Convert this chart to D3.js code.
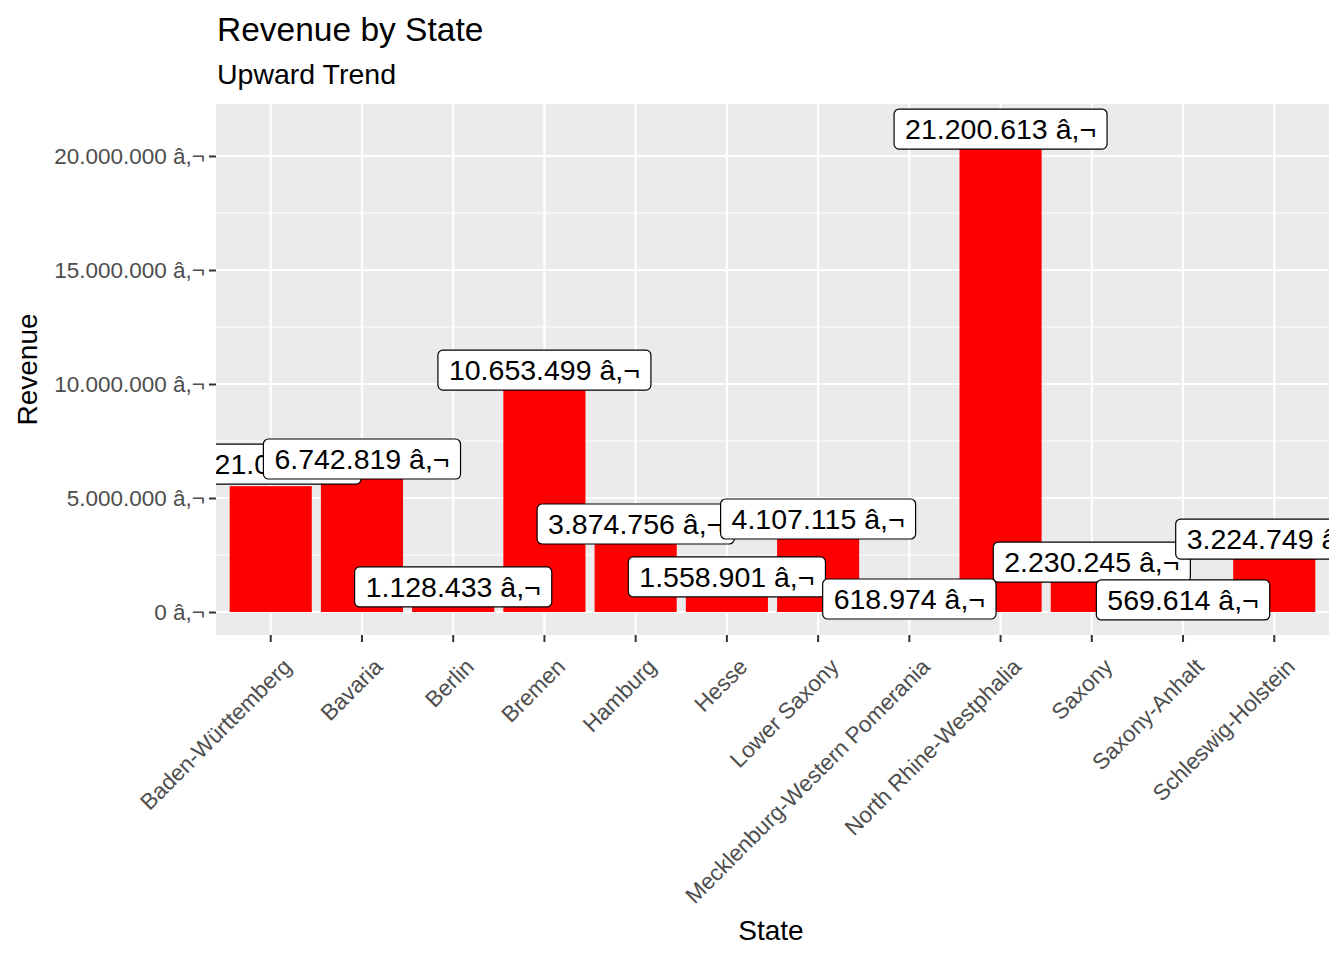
<!DOCTYPE html><html><head><meta charset="utf-8"><script src="https://cdn.jsdelivr.net/npm/d3@7"></script>
<style>body{margin:0;background:#fff}text{font-family:Arial,"Liberation Sans",sans-serif}</style></head><body>
<svg id="c" width="1344" height="960"></svg>
<script>
const states=["Baden-Württemberg","Bavaria","Berlin","Bremen","Hamburg","Hesse","Lower Saxony","Mecklenburg-Western Pomerania","North Rhine-Westphalia","Saxony","Saxony-Anhalt","Schleswig-Holstein"];
const revenue=[5521000,6742819,1128433,10653499,3874756,1558901,4107115,618974,21200613,2230245,569614,3224749];
const labelTexts=["5.521.000 â,¬","6.742.819 â,¬","1.128.433 â,¬","10.653.499 â,¬","3.874.756 â,¬","1.558.901 â,¬","4.107.115 â,¬","618.974 â,¬","21.200.613 â,¬","2.230.245 â,¬","569.614 â,¬","3.224.749 â,¬"];
// repelled label anchor positions (value units) and x shift in band fractions
const labelY=[6490000,6710000,1100000,10610000,3860000,1540000,4080000,570000,21180000,2190000,530000,3200000];
const labelDX=[-0.09,0,0,0,0,0,0,0,0,0,0,0];
const yTicks=[0,5000000,10000000,15000000,20000000];
const fmt=v=>d3.format(",")(v).replace(/,/g,".")+" â,¬";
const svg=d3.select("#c");
const L=216,R=1329,T=104,B=635;
const x=d3.scaleBand().domain(states).range([L,R]).paddingInner(0.1).paddingOuter(0.15);
const y=d3.scaleLinear().domain([-1008000,22280000]).range([B,T]);
svg.append("rect").attr("x",L).attr("y",T).attr("width",R-L).attr("height",B-T).attr("fill","#ebebeb");
const minor=yTicks.slice(0,-1).map((t,i)=>(t+yTicks[i+1])/2).concat([22500000]);
svg.selectAll(".mn").data(minor.filter(v=>y(v)>=T)).join("line").attr("x1",L).attr("x2",R).attr("y1",d=>y(d)).attr("y2",d=>y(d)).attr("stroke","#fff").attr("stroke-width",1.1);
svg.selectAll(".gy").data(yTicks).join("line").attr("x1",L).attr("x2",R).attr("y1",d=>y(d)).attr("y2",d=>y(d)).attr("stroke","#fff").attr("stroke-width",2.2);
svg.selectAll(".gx").data(states).join("line").attr("x1",d=>x(d)+x.bandwidth()/2).attr("x2",d=>x(d)+x.bandwidth()/2).attr("y1",T).attr("y2",B).attr("stroke","#fff").attr("stroke-width",2.2);
svg.selectAll(".bar").data(states).join("rect").attr("x",d=>x(d)).attr("width",x.bandwidth()).attr("y",(d,i)=>y(revenue[i])).attr("height",(d,i)=>y(0)-y(revenue[i])).attr("fill","#ff0000");
const ya=svg.append("g").attr("transform",`translate(${L},0)`).call(d3.axisLeft(y).tickValues(yTicks).tickFormat(fmt).tickSize(7).tickPadding(4));
ya.select(".domain").remove();
ya.selectAll("line").attr("stroke","#333").attr("stroke-width",2);
ya.selectAll("text").attr("fill","#4d4d4d").style("font-size","22.5px");
const xa=svg.append("g").attr("transform",`translate(0,${B})`).call(d3.axisBottom(x).tickSize(7).tickSizeOuter(0));
xa.select(".domain").remove();
xa.selectAll("line").attr("stroke","#333").attr("stroke-width",2);
xa.selectAll("text").attr("fill","#4d4d4d").style("font-size","22.5px").attr("text-anchor","end").attr("dy",0).attr("transform","translate(15,26) rotate(-45)");
svg.append("clipPath").attr("id","pc").append("rect").attr("x",L).attr("y",T).attr("width",R-L).attr("height",B-T);
const lg=svg.append("g").attr("clip-path","url(#pc)");
states.forEach((s,i)=>{
  const cx=x(s)+x.bandwidth()/2+labelDX[i]*x.step(), cy=y(labelY[i]);
  const g=lg.append("g");
  const t=g.append("text").attr("x",cx).attr("y",cy+10).attr("text-anchor","middle").style("font-size","28.5px").attr("fill","#000").text(labelTexts[i]);
  const w=t.node().getComputedTextLength()+22;
  g.insert("rect","text").attr("x",cx-w/2).attr("y",cy-20).attr("width",w).attr("height",40).attr("rx",5).attr("fill","#fff").attr("stroke","#000").attr("stroke-width",1.2);
});
svg.append("text").attr("x",217).attr("y",41).style("font-size","33.5px").text("Revenue by State");
svg.append("text").attr("x",217).attr("y",84).style("font-size","28.5px").text("Upward Trend");
svg.append("text").attr("x",771).attr("y",940).attr("text-anchor","middle").style("font-size","28px").text("State");
svg.append("text").attr("transform",`translate(37,${(T+B)/2}) rotate(-90)`).attr("text-anchor","middle").style("font-size","28px").text("Revenue");
</script></body></html>
